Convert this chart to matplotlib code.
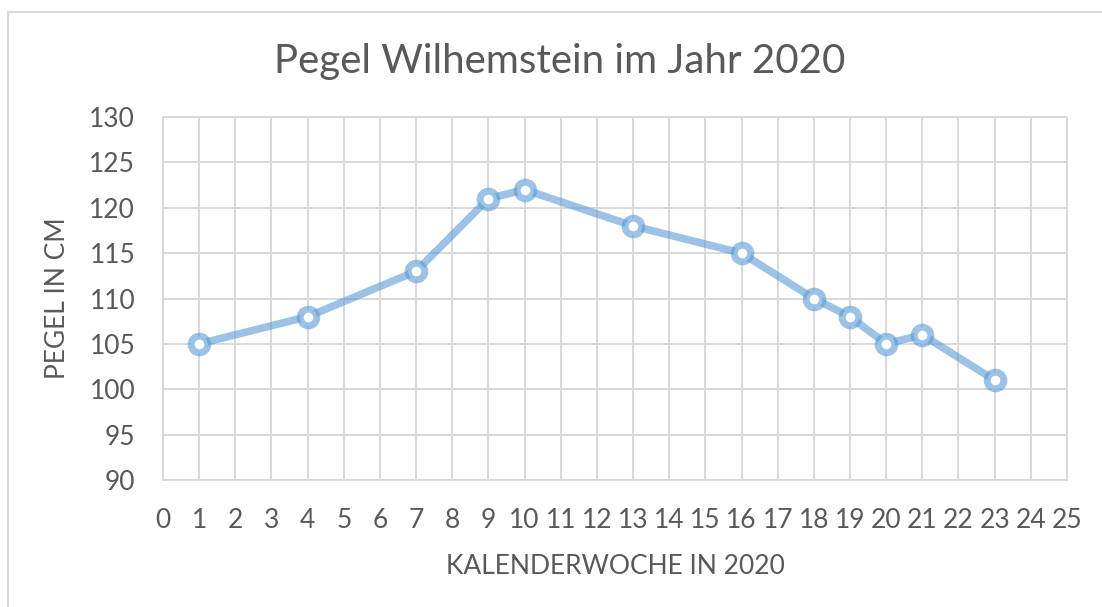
import matplotlib.pyplot as plt
from matplotlib.patches import Rectangle

# Pegel Wilhemstein data (Kalenderwoche -> Pegel in cm)
wochen = [1, 4, 7, 9, 10, 13, 16, 18, 19, 20, 21, 23]
pegel = [105, 108, 113, 121, 122, 118, 115, 110, 108, 105, 106, 101]
x_ticks = list(range(0, 26))
y_ticks = list(range(90, 131, 5))

plt.rcParams['font.family'] = ['Lato', 'DejaVu Sans']
text_color = '#595959'
grid_color = '#D9D9D9'
line_rgba = (0x5B / 255, 0x9B / 255, 0xD5 / 255, 0.6)

fig = plt.figure(figsize=(11.02, 6.07), dpi=100)
ax = fig.add_axes([0.1479, 0.2092, 0.8203, 0.598])

# line first, then markers on top with white face
ax.plot(wochen, pegel, color=line_rgba, linewidth=5.5, solid_capstyle='round', zorder=3)
ax.plot(wochen, pegel, linestyle='none', marker='o', markersize=12,
        markerfacecolor='white', markeredgecolor=line_rgba, markeredgewidth=5, zorder=4)

ax.set_xlim(0, 25)
ax.set_ylim(90, 130)
ax.set_xticks(x_ticks)
ax.set_yticks(y_ticks)
ax.grid(True, color=grid_color, linewidth=1.4)
ax.set_axisbelow(True)
for s in ax.spines.values():
    s.set_color(grid_color)
    s.set_linewidth(1.4)
ax.tick_params(length=0, labelsize=19, colors=text_color, pad=20)
ax.tick_params(axis='y', pad=20)

ax.set_xlabel('KALENDERWOCHE IN 2020', fontsize=19, color=text_color, labelpad=15)
ax.set_ylabel('PEGEL IN CM', fontsize=19, color=text_color, labelpad=14)
fig.text(0.508, 0.898, 'Pegel Wilhemstein im Jahr 2020', fontsize=29, color=text_color,
         ha='center', va='center')

# chart frame
fig.patches.append(Rectangle((8 / 1102, -0.05), 1.2, 1 - 12 / 607 + 0.05,
                             transform=fig.transFigure, fill=False,
                             edgecolor=grid_color, linewidth=1.5))

fig.savefig('out.png', dpi=100)
